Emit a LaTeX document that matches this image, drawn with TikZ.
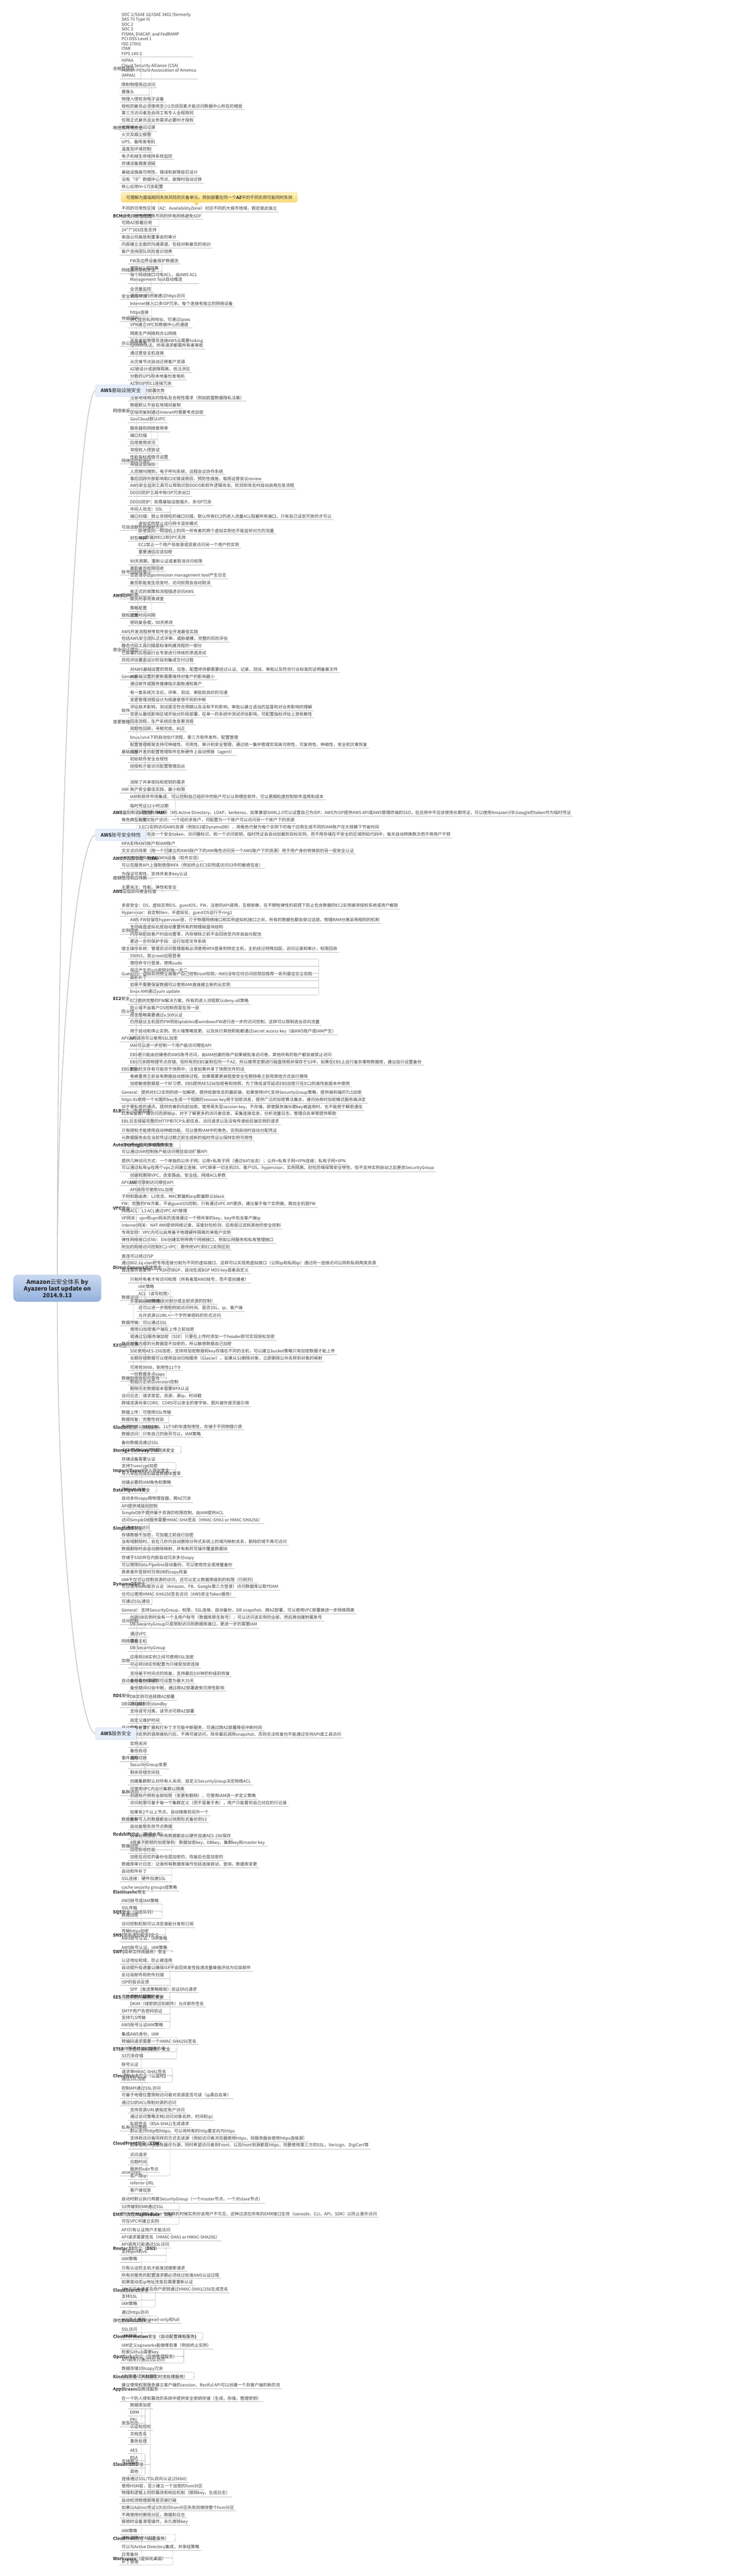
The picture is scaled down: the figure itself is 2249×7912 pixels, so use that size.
\documentclass[tikz,border=0pt]{standalone}
\usepackage{fontspec}
\setmainfont{Noto Sans CJK SC}
\usetikzlibrary{calc,positioning}

\definecolor{LeafGray}{RGB}{60,60,60}
\definecolor{LineGray}{RGB}{188,188,188}
\definecolor{TrunkGray}{RGB}{196,196,196}
\definecolor{RootTop}{RGB}{202,217,240}
\definecolor{RootBottom}{RGB}{147,177,222}
\definecolor{RootEdge}{RGB}{160,180,212}
\definecolor{BoxFill}{RGB}{230,238,250}
\definecolor{BoxEdge}{RGB}{168,190,224}
\definecolor{NoteTop}{RGB}{255,244,196}
\definecolor{NoteBottom}{RGB}{251,217,110}
\definecolor{NoteEdge}{RGB}{236,196,92}

\newcommand\leaffont{\fontsize{13}{15}\selectfont}
\newcommand\boxfont{\fontsize{15}{18}\selectfont}
\newcommand\rootfont{\fontsize{18}{20.5}\selectfont}
\newcommand\lstrut{\rule[-2pt]{0pt}{10pt}}
\newdimen\tmpw

\def\ycurv{33}
\def\bx{0}
\def\kids{}
\def\pfirst{}
\def\allfirst{}
\def\prevsub{0}
\def\kidno{0}
\def\myname{}
\newcommand\vgap[1]{\pgfmathsetmacro\tmpv{\ycurv+#1}\global\let\ycurv\tmpv}
\newcommand\addkid[1]{\ifx\kids\empty\edef\kids{#1}\else\edef\kids{\kids,#1}\fi}
\def\getfirst#1,#2\relax{\def\kfirst{#1}}

\newcommand\leaf[2][1]{%
  \edef\kidno{\the\numexpr\kidno+1\relax}%
  \edef\lname{\myname\kidno}%
  \pgfmathsetmacro\tmpv{\ycurv+22+15*(#1-1)}\global\let\ycurv\tmpv
  \node[leaf] (\lname) at (\bx,\ycurv) {#2};
  \draw[uline] (\lname.south west) -- (\lname.south east);
  \expandafter\addkid\expandafter{\lname}%
  \ifx\pfirst\empty\let\pfirst\lname\fi
  \global\let\lastleaf\lname
  \def\prevsub{0}}

\newcommand\drawkids[5]{%
  \coordinate (bk) at ([xshift=#3pt]#1);
  \draw[conn] ([xshift=#2pt]#1) -- (bk);
  \expandafter\getfirst\kids,\relax
  \foreach \k in \kids {\xdef\klast{\k}}%
  \ifx\kfirst\klast
    \draw[conn] (bk) |- ([xshift=#5pt]\kfirst.#4);
  \else
    \draw[conn,rounded corners=4pt] ([xshift=#5pt]\kfirst.#4) -| (bk) |- ([xshift=#5pt]\klast.#4);
    \foreach \k in \kids {%
      \edef\tmpa{\k}%
      \ifx\tmpa\kfirst\else\ifx\tmpa\klast\else
        \draw[conn] (bk |- \k.#4) -- ([xshift=#5pt]\k.#4);
      \fi\fi}%
  \fi}

\newcommand\linklvsub{%
  \draw[uline] (\myname.south west) -- (\myname.south east);
  \drawkids{\myname.south east}{0}{14}{south west}{6}}
\newcommand\linklvtwo{\drawkids{\myname.east}{9}{14}{south west}{6}}

\newcommand\branch[3][lvsub]{%
  \ifnum\prevsub=1 \vgap{6}\fi
  \sbox0{\leaffont #3}\tmpw=\wd0
  \pgfmathsetmacro\nbx{\bx+\tmpw+26}%
  \begingroup
  \let\myleft\bx \let\bx\nbx
  \def\kids{}\def\pfirst{}\def\prevsub{0}\def\kidno{0}%
  \def\myname{#2}\def\mytext{#3}\def\mystyle{#1}}
\newcommand\closebranch{%
  \coordinate (tmpx) at (\myleft,0);
  \coordinate (tmpm) at ($(\pfirst.south)!0.5!(\lastleaf.south)$);
  \node[\mystyle] (\myname) at (tmpx |- tmpm) {\mytext};
  \csname link\mystyle\endcsname
  \global\let\tmpfirst\pfirst
  \xdef\tmpname{\myname}%
  \endgroup
  \ifx\pfirst\empty\let\pfirst\tmpfirst\fi
  \expandafter\addkid\expandafter{\tmpname}%
  \def\prevsub{1}}

\newcommand\mainbox[2]{%
  \sbox0{\boxfont #2}\tmpw=\wd0
  \pgfmathsetmacro\nbx{293+\tmpw+32+16}%
  \begingroup
  \let\bx\nbx
  \def\kids{}\def\pfirst{}\def\prevsub{0}\def\kidno{0}%
  \def\myname{#1}\def\mytext{#2}}
\newcommand\closebox{%
  \coordinate (tmpx) at (293,0);
  \coordinate (tmpm) at ($(\pfirst.north)!0.5!(\lastleaf.south)$);
  \node[mainbox] (\myname) at (tmpx |- tmpm) {\mytext};
  \drawkids{\myname.east}{0}{16}{west}{4}%
  \global\let\tmpfirst\pfirst
  \endgroup
  \ifx\allfirst\empty\global\let\allfirst\tmpfirst\fi}

\begin{document}
\begin{tikzpicture}[x=1pt,y=-1pt]
\tikzstyle{leaf} = [anchor=south west, inner xsep=6pt, inner ysep=3pt, align=left, font=\leaffont, text=LeafGray, execute at begin node=\lstrut, execute at end node=\lstrut]
\tikzstyle{lvsub} = [leaf]
\tikzstyle{lvtwo} = [anchor=west, yshift=-3pt, inner xsep=6pt, inner ysep=3pt, font=\leaffont, text=black!85, execute at begin node=\lstrut]
\tikzstyle{mainbox} = [anchor=west, rectangle, rounded corners=5pt, draw=BoxEdge, fill=BoxFill, inner xsep=16pt, minimum height=36pt, font=\boxfont, text=black!80]
\tikzstyle{rootbox} = [rectangle, rounded corners=14pt, draw=RootEdge, top color=RootTop, bottom color=RootBottom, minimum width=270pt, minimum height=82pt, align=center, font=\rootfont, text=black!85]
\tikzstyle{note} = [anchor=south west, rectangle, rounded corners=6pt, draw=NoteEdge, top color=NoteTop, bottom color=NoteBottom, inner xsep=15pt, inner ysep=9pt, font=\leaffont, text=black!80]
\tikzstyle{uline} = [draw=LineGray, line width=0.9pt]
\tikzstyle{conn} = [draw=LineGray, line width=0.9pt]
\tikzstyle{trunk} = [draw=TrunkGray, line width=2.2pt]

\fill[white] (0,0) rectangle (2249,7912);
\useasboundingbox (0,0) rectangle (2249,7912);

\mainbox{infra}{\textbf{AWS}基础设施安全}
\branch[lvtwo]{comply}{合规性项目}
\leaf[9]{SOC 1/SSAE 16/ISAE 3402 (formerly\\SAS 70 Type II)\\SOC 2\\SOC 3\\FISMA, DIACAP, and FedRAMP\\PCI DSS Level 1\\ISO 27001\\ITAR\\FIPS 140-2}
\leaf[4]{HIPAA\\Cloud Security Alliance (CSA)\\Motion Picture Association of America\\(MPAA)}
\closebranch
\branch[lvtwo]{phys}{物理和环境安全}
\leaf{限制物理周边访问}
\leaf{摄像头}
\leaf{物理入侵检测电子设备}
\leaf{授权的雇员必须使用至少2次双因素才能访问数据中心所在的楼层}
\leaf{第三方访问者及合同工有专人全程陪同}
\leaf{仅限正式雇员且业务需求必要时才授权}
\leaf{定期审计访问记录}
\leaf{火灾及烟尘报警}
\leaf{UPS，备用发电机}
\leaf{温度及环境控制}
\leaf{电子机械生命维持系统监控}
\leaf{存储设备报废消磁}
\closebranch
\branch[lvtwo]{bcm}{\textbf{BCM}业务持续性管理}
\leaf{基础设施高可用性，错误和故障容忍设计}
\leaf{没有“冷”数据中心节点，故障时自动迁移}
\leaf{核心应用N+1冗余配置}
\vgap{45}
\leaf{不同的可用性区域（AZ：AvailabilityZone）对应不同的大城市地域，假定彼此独立}
\node[note] (aznote) at ([xshift=5pt,yshift=9pt]bcm4.north west) {可理解为面临相同失效风险的灾备单元，例如部署在同一个\textbf{AZ}中的不同实例可能同时失效};
\fill[NoteBottom] ([xshift=224pt,yshift=0.6pt]aznote.south west) -- ([xshift=231pt,yshift=-11pt]aznote.south west) -- ([xshift=238pt,yshift=0.6pt]aznote.south west) -- cycle;
\draw[NoteEdge] ([xshift=224pt]aznote.south west) -- ([xshift=231pt,yshift=-11pt]aznote.south west) -- ([xshift=238pt]aznote.south west);
\leaf{UPS，发电机使用不同的供电网络避免SOF}
\leaf{可跨AZ部署应用}
\leaf{24*7*365应急支持}
\leaf{来自公司高层和董事会的审计}
\leaf{内部建立全面的沟通渠道，包括对新雇员的培训}
\leaf{客户支持团队风险意识培养}
\closebranch
\branch[lvtwo]{net}{网络安全}
\branch{netinfra}{网络基础架构安全}
\leaf{FW及边界设备保护数据流}
\leaf{使用ACL规则集}
\leaf[2]{每个网络接口均有ACL，由AWS ACL\\Management Tool自动推送}
\closebranch
\branch{netnode}{安全访问节点}
\leaf{全流量监控}
\leaf{调用API的终端通过https访问}
\leaf{Internet接入口多ISP冗余，每个连接有独立的网络设备}
\closebranch
\branch{nettrans}{传输保护}
\leaf{https连接}
\leaf[2]{VPC提供私网地址，可通过Ipsec\\VPN建立VPC到数据中心的通道}
\closebranch
\branch{netoffice}{办公网络隔离}
\leaf{隔离生产网络和办公网络}
\leaf[2]{开发者和管理员连接AWS云需要ticking\\system认证，所有请求都需所有者审批}
\leaf{通过堡垒主机连接}
\closebranch
\branch{netfault}{错误容忍设计}
\leaf{从灾难节点自动迁移客户资源}
\leaf{AZ被设计成故障隔离，低泛洪区}
\leaf{分散的UPS和本地备份发电机}
\leaf{AZ到ISP的L1连接冗余}
\leaf{利用跨AZ部署优势}
\leaf{注意地域相关的隐私及合规性需求（例如欧盟数据隐私法案）}
\leaf{数据默认不会在地域间复制}
\leaf{区域间复制通过Intenet时需要考虑加密}
\leaf{GovCloud默认VPC}
\closebranch
\branch{netmon}{网络监控和保护}
\leaf{服务器和网络使用率}
\leaf{端口扫描}
\leaf{应用使用状况}
\leaf{非授权入侵尝试}
\leaf{性能指标阈值可设置}
\leaf{关键运营指标}
\leaf{人员随叫随到，电子呼叫系统，远程会议协作系统}
\leaf{事后回顾外部影响和COE错误原因，预防性措施，每周运营会议review}
\leaf{AWS安全监测工具可以帮助识别DDOS和软件逻辑攻击，检测到攻击时自动启用应急流程}
\leaf{DDOS防护工具中有ISP冗余出口}
\closebranch
\branch{netopt}{可自选额外的保护方式}
\leaf{DDOS防护：依靠基础设施强大，多ISP冗余}
\leaf{中间人攻击：SSL}
\leaf{端口扫描：禁止非授权的端口扫描，默认所有EC2的进入流量ACL阻塞所有端口，只有自己设定开放的才可以}
\branch{sniff}{封包嗅探}
\leaf{虚拟实例禁止运行网卡混杂模式}
\leaf{即使是同一物理机上的同一所有者的两个虚拟实例也不能监听对方的流量}
\leaf{arp欺骗对EC2和VPC无效}
\leaf{EC2禁止一个用户非故意或恶意访问另一个用户的实例}
\leaf{重要通信应该加密}
\closebranch
\closebranch
\closebranch
\branch[lvtwo]{awsaccess}{\textbf{AWS}访问}
\branch{review}{账号回顾和审计}
\leaf{90天周期，重新认证或者取消访问权限}
\leaf{离职雇员权限回收}
\leaf{变更请求由permission management tool产生日志}
\leaf{雇员职能发生改变时，访问权限会自动取消}
\closebranch
\branch{bgcheck}{后台检查}
\leaf{有正式的政策和流程描述访问AWS}
\leaf{雇员刑事背景调查}
\closebranch
\branch{authpol}{授权政策}
\leaf{策略配置}
\leaf{过期时间间隔}
\leaf{密码复杂度，90天修改}
\closebranch
\closebranch
\branch[lvtwo]{design}{安全设计理念}
\leaf{AWS开发流程参考软件安全开发最佳实践}
\leaf{包括AWS安全团队正式评审，威胁建模，完整的风险评估}
\leaf{静态代码工具扫描是标准构建流程的一部分}
\leaf{已部署的应用由行业专家进行持续的渗透测试}
\leaf{风险评估覆盖设计阶段到集成交付过程}
\closebranch
\branch[lvtwo]{change}{变更管理}
\branch{chgeneral}{General}
\leaf{对AWS基础设置的常规，应急，配置修改都需要经过认证、记录、测试、审批以及符合行业标准的证明备案文件}
\leaf{对基础设置的更新需要维持对客户的影响最小}
\leaf{通过邮件或服务健康指示面板通知客户}
\closebranch
\branch{chsoft}{软件}
\leaf{有一套系统方法论，评审、测试、审批和良好的沟通}
\leaf{变更管理流程设计为规避意想不到的中断}
\leaf{评估技术影响，测试是否符合预期以及没有不利影响，审批以建立适当的监督和对业务影响的理解}
\leaf{变更从最低影响区域开始分阶段部署，在单一的系统中测试评估影响，可配置指标评估上游依赖性}
\leaf{回滚流程，生产系统应急变更流程}
\leaf{周期性回顾，寻根究底，纠正}
\closebranch
\branch{chinfra}{基础设施}
\leaf{linux/unix下的自动化IT流程，第三方软件发布，配置管理}
\leaf{配置管理框架支持可伸缩性、可用性、审计和安全管理，通过统一集中管理实现高可用性，可复用性，伸缩性，安全和灾难恢复}
\leaf{内部开发的配置管理软件在新硬件上自动预装（agent）}
\leaf{初始软件安全合规性}
\leaf{经授权才能访问配置管理后台}
\closebranch
\closebranch
\closebox

\vgap{27}
\mainbox{account}{\textbf{AWS}账号安全特性}
\branch[lvtwo]{iam}{\textbf{AWS}鉴别和访问管理（\textbf{IAM}）}
\branch{iamcore}{IAM}
\leaf{消除了共享密码和密钥的需求}
\leaf{账户安全最佳实践，最小权限}
\leaf{IAM和软件市场集成，可以控制自己组织中的账户可以认购哪些软件，可以更细粒度控制软件滥用和成本}
\closebranch
\branch{role}{角色}
\leaf{临时凭证12小时过期}
\branch{scene}{典型场景}
\leaf{1.联合用户访问（MS Active Directory，LDAP，kerberos，如果兼容SAML2.0可以设置自己为IDP，AWS为ISP提供AWS API或AWS管理终端的SSO，在应用中不应该使用长期凭证，可以使用Amazon\textbackslash FB\textbackslash Google的token作为临时凭证}
\leaf{2.交叉账户访问：一个组织多账户，可配置为一个账户可以访问另一个账户下的资源}
\leaf{3.EC2实例访问AWS资源（例如S3或DynamoDB），用角色代替为每个实例下的每个应用生成不同的IAM账户在大规模下节省时间}
\closebranch
\leaf{临时凭证包含一个安全token，访问键标识，和一个访问密钥，临时凭证会自动加载到目标实例，而不用存储在不安全的区域例如代码中，每天自动转换数次而不用用户干预}
\closebranch
\closebranch
\branch[lvtwo]{mfa}{\textbf{AWS}多因素认证（\textbf{MFA}）}
\leaf{MFA支持AWS账户和IAM账户}
\leaf{交叉访问场景（用一个已建立的AWS账户下的IAM角色访问另一个AWS账户下的资源）用于用户身份转换前的另一层安全认证}
\leaf{MFA支持硬件和虚拟MFA设备（软件实现）}
\leaf{可以在服务API上强制使用MFA（例如终止EC3实例或访问S3中的敏感信息）}
\closebranch
\branch[lvtwo]{keyrot}{密钥管理和自转换}
\leaf{为保证可用性，支持并发多key认证}
\closebranch
\vgap{12}
\branch[lvtwo]{advisor}{\textbf{AWS}受信顾问安全检查}
\leaf{主要关注：性能，弹性和安全}
\closebranch
\closebox

\vgap{35}
\mainbox{service}{\textbf{AWS}服务安全}
\branch[lvtwo]{ectwo}{\textbf{EC2}安全}
\leaf{多层安全：OS，虚拟实例OS、guestOS，FW，注册的API调用，互相依赖，在不牺牲弹性的前提下防止包含数据的EC2实例被非授权系统或用户截取}
\leaf{Hypervisor：自定制Xen，半虚拟化，guestOS运行于ring1}
\branch{isolate}{实例隔离}
\leaf{AWS-FW驻留在hypervisor层，介于物理网络接口和实例虚拟机接口之间，所有的数据包都会穿过这层，物理RAM分离采用相同的机制}
\leaf{专用磁盘虚拟化层自动重置所有的物理磁盘块结构}
\leaf{内存非配给客户时自动置零，内存擦除之前不会回收至内存自由分配池}
\leaf{更进一步的保护手段：运行加密文件系统}
\closebranch
\leaf{宿主操作系统：管理员访问管理面板必须使用MFA登录到特定主机，主机经过特殊加固，访问记录和审计，权限回收}
\branch{guestos}{GuestOS：虚拟实例完全由客户自己控制root权限，AWS没有任何访问权限但推荐一系列最佳安全实践}
\leaf{SSHV2，禁止root远程登录}
\leaf{使用命令行登录，使用sudo}
\leaf{保证产生的ssh密钥对独一无二}
\leaf{最新补丁}
\leaf{如果不需要保留数据可以使用AMI直接建立新的云实例}
\leaf{linux AMI通过yum update}
\closebranch
\branch{ecfw}{防火墙}
\leaf{EC2提供完整的FW解决方案，所有的进入流程默认deny-all策略}
\leaf{防火墙不由客户OS控制而是在另一层}
\leaf{改变策略需要通过x.509认证}
\leaf{仍然建议主机层的FW例如iptables或windowsFW进行进一步的访问控制，这样可以限制进出双向流量}
\closebranch
\branch{ecapi}{API访问}
\leaf{用于启动和停止实例，防火墙策略变更，以及执行其他职能都通过secret access key（由AWS账户或IAM产生）}
\leaf{API调用可以使用SSL加密}
\leaf{IAM可以进一步控制一个用户能访问哪些API}
\closebranch
\branch{ebs}{EBS安全：}
\leaf{EBS卷只能由创建卷的AWS账号访问，由IAM创建的账户如果被批准访问卷，其他所有的账户都会被禁止访问}
\leaf{EBS冗余跨物理节点存储，但所有的EBS复制在同一个AZ，所以推荐定期进行磁盘快照并保存于S3中，如果在EBS上运行复杂事物数据库，建议自行设置备份}
\leaf{删除的文件有可能存于快照中，注意如果共享了快照文件的话}
\leaf{卷被重用之前会有数据自动擦除过程，如果需要更高程度安全在删除卷之前用其他方式自行擦除}
\leaf{加密敏感数据是一个好习惯，EBS提供AES256加密卷和快照，为了降低读写延迟EBS加密只在EC2的高性能版本中使用}
\closebranch
\closebranch
\branch[lvtwo]{elb}{\textbf{ELB}安全（负载均衡）}
\leaf{General：提供对EC2实例的统一加解密，提供抵御攻击的最前端，如果使用VPC支持SecurityGroup策略，提供端到端的TLS加密}
\leaf{https tls使用一个长期的key生成一个短期的session key用于加密消息，提供广泛的加密算法集合，通讯协商时加密模式服务端决定}
\leaf{对于更私密的通讯，提供完善的向前加密，使用易失型session key，不存储，即使服务端长期key被盗用时，也不能用于解密通信}
\leaf{ELB保留客户端访问的原始ip，对于了解更多的访问者信息，采集连接信息，分析流量日志，管理白名单等提供帮助}
\leaf{EBL日志保留完整的HTTP和TCP头部信息，访问请求以及没有传递给后端实例的请求}
\closebranch
\branch[lvtwo]{autoscale}{\textbf{Auto Scaling}自动伸缩服务安全}
\leaf{只有授权才能使用自动伸缩功能，可以使用IAM中的角色，实例启动时自动分配凭证}
\leaf{元数据服务会在当前凭证过期之前生成新的临时凭证以保持实例可用性}
\leaf{临时凭证每天自动转换多次}
\leaf{可以通过IAM控制账户能访问哪些自动扩展API}
\closebranch
\branch[lvtwo]{vpc}{\textbf{VPC}安全}
\leaf{提供几种访问方式：一个单独的公共子网；公用+私有子网（通过NAT出去）；公共+私有子网+VPN连接；私有子网+VPN}
\leaf{可以通过私有ip在两个vpc之间建立连接，VPC继承一切主机OS，客户OS，hypervisor，实例隔离，封包防嗅探等安全特性，但不支持实例启动之后更改SecurityGroup}
\branch{vpcapi}{API访问}
\leaf{创建和删除VPC，改变路由，安全组，网络ACL参数}
\leaf{IAM可限制访问哪些API}
\leaf{API调用可使用SSL加密}
\closebranch
\leaf{子网和路由表：L2攻击，MAC欺骗和arp欺骗默认block}
\leaf{FW：完整的FW方案，不由guestOS控制，只有通过VPC API更改，建议基于每个实例做，再加主机层FW}
\leaf{网络ACL：L3 ACL通过VPC API管理}
\leaf{VP网关：vpn和vpn网关的连接通过一个预共享的key，key中包含客户端ip}
\leaf{Internet网关：NAT AMI提供网络记录，深度封包检测，应用层过滤和其他的安全控制}
\leaf{专用实例：VPC内可以启用基于物理硬件隔离的单租户实例}
\leaf{弹性网络接口(ENI)：ENI创建实例带两个网络接口，例如公网服务和私有管理接口}
\leaf{附加的网络访问控制EC2-VPC：跟传统VPC和EC2实例区别}
\closebranch
\branch[lvtwo]{direct}{\textbf{Direct Connect}直连安全}
\leaf{直连可以绕过ISP}
\leaf{通过802.1q vlan把专用连接分割为不同的虚拟接口，这样可以实现用虚拟接口（公网ip和私网ip）通过同一连接访问公网和私网两类资源}
\leaf{直连服务需要带一个ASN的BGP，自动生成BGP MD5 key或者自定义}
\closebranch
\branch[lvtwo]{sthree}{\textbf{S3}安全}
\branch{s3access}{数据访问}
\leaf{只有所有者才有访问权限（所有者是AWS账号，而不是创建者）}
\branch{s3multi}{多重访问控制途径}
\leaf{IAM策略}
\leaf{ACL（读写权限）}
\leaf{bucket策略（对部分或全部资源的控制）}
\leaf{还可以进一步限制例如访问时间、是否SSL，ip，客户端}
\leaf{允许资源以URL+一个字符串密码的形式访问}
\closebranch
\closebranch
\leaf{数据传输：可以通过SSL}
\branch{s3store}{数据存储}
\leaf{使用S3加密客户端在上传之前加密}
\leaf{或通过S3服务端加密（SSE）只要在上传时添加一个header即可实现轻松加密}
\leaf{对象内部的元数据是不加密的，所以敏感数据自己加密}
\leaf{SSE使用AES-256加密，支持将加密数据和key存储在不同的主机，可以建立bucket策略只有加密数据才能上传}
\leaf{长期存储数据可以使用自动归档服务（Glacier），如果从S3删除对象，立即删除公共名称到对象的映射}
\closebranch
\branch{s3durable}{数据耐用性和可靠性}
\leaf{可用性9999，耐用性11个9}
\leaf{一份数据多点copy}
\leaf{数据历史状态version控制}
\leaf{删除历史数据版本需要MFA认证}
\closebranch
\leaf{访问日志：请求类型，资源，源ip，时间戳}
\leaf{跨域资源共享CORS：CORS可以安全的使字体，图片被外部页面引用}
\closebranch
\branch[lvtwo]{glacier}{\textbf{Glacier}安全（归档服务）}
\leaf{数据上传：可使用SSL传输}
\leaf{数据恢复：完整性校验}
\leaf{数据存储：AES-256，11个9的年度耐用性，存储于不同物理介质}
\leaf{数据访问：只有自己的账号可以，IAM策略}
\closebranch
\branch[lvtwo]{gateway}{\textbf{Storage Gateway}存储网关安全}
\leaf{备份数据流通过SSL}
\leaf{iSCSI支持CHAP协议}
\closebranch
\branch[lvtwo]{impexp}{\textbf{Import/Export}导入导出安全}
\leaf{存储设备需要认证}
\leaf{支持Truecrypt加密}
\leaf{导入导出完成后磁盘数据块置零}
\closebranch
\branch[lvtwo]{pipeline}{\textbf{Data Pipeline}安全}
\leaf{创建必要的IAM角色和策略}
\leaf{提供SSL传输}
\closebranch
\branch[lvtwo]{simpledb}{\textbf{SimpleDB}安全}
\leaf{自动多份copy跨物理容器，跨AZ冗余}
\leaf{API提供域级别控制}
\leaf{SimpleDB不提供基于资源的权限控制，由IAM提供ACL}
\leaf{访问SimpleDB服务需要HMAC-SHA签名（HMAC-SHA1 or HMAC-SHA256）}
\leaf{可通过SSL访问}
\leaf{存储数据不加密，可加载之前自行加密}
\leaf{当有域删除时，会在几秒内自动删除分布式系统上的域内映射关系，删除的域不再可访问}
\leaf{数据删除时会自动删除映射，并有新的写操作覆盖数据块}
\closebranch
\branch[lvtwo]{dynamo}{\textbf{DynamoDB}安全}
\leaf{存储于SSD并在内部自动冗余多分copy}
\leaf{可以使用Data Pipeline自动备份，可以使用完全或增量备份}
\leaf{原表意外受损时可用DR的copy恢复}
\leaf{IAM不仅可以控制资源的访问，还可以定义数据库级别的权限（行和列）}
\leaf{可以使用web联合认证（Amazon、FB、Google第三方登录）访问数据库以取代IAM}
\leaf{也可以使用HMAC-SHA256签名访问（AWS安全Token服务）}
\leaf{可通过SSL通信}
\closebranch
\branch[lvtwo]{rds}{\textbf{RDS}安全}
\leaf{General：支持SecurityGroup，权限，SSL连接，自动备份，DB snapshot，跨AZ部署，可以使用VPC部署做进一步网络隔离}
\branch{rdsaccess}{访问控制}
\leaf{创建DB实例时会有一个主用户账号（数据库原生账号），可以访问该实例的全部，然后再创建附属账号}
\leaf{DB SecurityGroup只是限制访问到数据库端口，更进一步的需要IAM}
\closebranch
\branch{rdsnet}{网络隔离}
\leaf{通过VPC}
\leaf{堡垒主机}
\leaf{DB SecurityGroup}
\closebranch
\branch{rdscrypt}{加密}
\leaf{应用到DB实例之间可使用SSL加密}
\leaf{可以将DB实例配置为只接受加密连接}
\closebranch
\branch{rdsbackup}{自动备份和DB快照}
\leaf{支持基于时间点的恢复，支持最后5分钟的秒级别恢复}
\leaf{自动备份保留期可设置为最大35天}
\leaf{备份期间IO会中断，通过跨AZ部署避免可用性影响}
\closebranch
\branch{rdsrepl}{DB实例复制}
\leaf{DB实例可选择跨AZ部署}
\leaf{自动复制到standby}
\leaf{支持读写分离，读节点可跨AZ部署}
\closebranch
\branch{rdspatch}{自动软件补丁}
\leaf{自定义维护时间}
\leaf{只有计算扩展和打补丁才可能中断服务，可通过跨AZ部署降低中断时间}
\leaf{删除实例的调用被执行后，不再可被访问，除非最后调用snapshot，否则无法恢复也不能通过任何API或工具访问}
\closebranch
\branch{rdsevent}{事件通知}
\leaf{实例关闭}
\leaf{备份启动}
\leaf{故障切换}
\leaf{SecurityGroup变更}
\leaf{剩余存储空间低}
\closebranch
\closebranch
\branch[lvtwo]{redshift}{\textbf{Redshift}安全（数据仓库）}
\branch{rscluster}{集群访问}
\leaf{创建集群默认对所有人关闭，自定义SecurityGroup决定网络ACL}
\leaf{可使用VPC内运行集群以隔离}
\leaf{创建账户拥有全部权限（变更和删除），可使用IAM进一步定义策略}
\leaf{访问权限可基于每一个集群定义（而不是基于表），用户只能看到自己对应的行记录}
\closebranch
\branch{rsbackup}{数据备份}
\leaf{如果有2个以上节点，自动镜像到另外一个}
\leaf{所有写入的数据都会以快照形式备份到S3}
\leaf{自动复制失效节点数据}
\closebranch
\branch{rscrypt}{数据加密}
\leaf{如果启用加密，所有数据都会以硬件加速AES-256保存}
\leaf{4层基于密钥的加密架构：数据加密key，DBkey，集群key和master key}
\leaf{加密影响性能}
\leaf{加密后对应的备份也是加密的，恢复后也是加密的}
\closebranch
\leaf{数据库审计日志：记录所有数据库操作包括连接尝试，查询，数据库变更}
\leaf{自动软件补丁}
\leaf{SSL连接：硬件加速SSL}
\closebranch
\branch[lvtwo]{cache}{\textbf{Elasticache}安全}
\leaf{cache security groups组策略}
\closebranch
\vgap{12}
\branch[lvtwo]{sqs}{\textbf{SQS}安全（消息队列）}
\leaf{AWS账号或IAM策略}
\leaf{SSL传输}
\leaf{数据加密}
\closebranch
\branch[lvtwo]{sns}{\textbf{SNS(}简单通知服务\textbf{)}安全}
\leaf{访问控制机制可以决定谁能分发和订阅}
\leaf{传输https加密}
\leaf{AWS账号认证，IAM策略}
\closebranch
\branch[lvtwo]{swf}{\textbf{SWF(}简单工作流服务）安全}
\leaf{AWS账号认证，IAM策略}
\closebranch
\vgap{12}
\branch[lvtwo]{ses}{\textbf{SES}（简单邮件服务）安全}
\leaf{认证地址和域，防止被滥用}
\leaf{自动提升投递量以确保ISP不会因突发性投递流量峰值评估为垃圾邮件}
\leaf{反垃圾邮件和附件扫描}
\leaf{ISP的投诉反馈}
\branch{sesauth}{支持3种认证机制}
\leaf{SPF（发送策略框架）验证DNS请求}
\leaf{反向认证发送者id}
\leaf{DKIM（域密钥识别邮件）允许邮件签名}
\closebranch
\leaf{SMTP用户名密码验证}
\leaf{支持TLS传输}
\leaf{AWS账号认证IAM策略}
\closebranch
\branch[lvtwo]{etss}{\textbf{ETSS}（弹性转编码服务）安全}
\leaf{集成AWS身份，IAM}
\leaf{转编码请求需要一个HMAC-SHA256签名}
\leaf{API可通过SSL加密访问}
\leaf{S3冗余存储}
\closebranch
\branch[lvtwo]{watch}{\textbf{CloudWatch}安全（云监控\textbf{)}}
\leaf{账号认证}
\leaf{请求带HMAC-SHA1签名}
\leaf{通信SSL加密}
\closebranch
\branch[lvtwo]{front}{\textbf{CloudFront}安全（\textbf{CDN}）}
\leaf{控制API通过SSL访问}
\leaf{可基于地理位置限制访问者对资源是否可读（ip黑白名单）}
\leaf{通过S3的ACL限制对源的访问}
\branch{cfprivate}{私有访问策略}
\leaf{支持资源URL被指定账户访问}
\leaf{通过访问策略文档(访问对象名称，时间和ip)}
\leaf{私钥签名（RSA-SHA1)生成请求}
\leaf{默认支持http和https，可以将所有的http重定向为https}
\leaf{支持和访问者同样的方式去读源（例如访问者浏览器使用https，则服务器会使用https连接源）}
\leaf{如果使用http服务器作为源，同时希望访问者到Front，以及front到源都是https，则要使用第三方的SSL，Verisign、DigiCert等}
\closebranch
\branch{cflog}{accesslog}
\leaf{访问请求}
\leaf{日期时间}
\leaf{服务的cdn节点}
\leaf{客户端ip}
\leaf{referrer URL}
\leaf{客户端信息}
\closebranch
\closebranch
\branch[lvtwo]{emr}{\textbf{EMR}（弹性\textbf{MapReduce}）安全}
\leaf{启动时默认执行两套SecurityGroup（一个master节点，一个对slave节点）}
\leaf{S3传输到EMR通过SSL}
\leaf{默认当IAM用户启动一个集群的时候实例对该用户不可见，这种过滤在所有的EMR接口生效（console，CLI，API，SDK）以防止意外访问}
\leaf{可在VPC中建立实例}
\closebranch
\branch[lvtwo]{route}{\textbf{Router 53}安全（\textbf{DNS}）}
\leaf{API只有认证用户才能访问}
\leaf{API请求需要签名（HMAC-SHA1 or HMAC-SHA256）}
\leaf{API调用只能通过SSL访问}
\leaf{支持ipv4和v6}
\leaf{IAM策略}
\closebranch
\branch[lvtwo]{search}{\textbf{CloudSearch}安全}
\leaf{只有认证的主机才能发送搜索请求}
\leaf{所有对服务的配置请求都必须经过标准AWS认证过程}
\leaf{如果是动态ip地址改变后需要重新认证}
\leaf{API访问由请求及用户密钥通过HMAC-SHA1/256生成签名}
\leaf{支持SSL}
\leaf{IAM策略}
\closebranch
\branch[lvtwo]{beanstalk}{弹性\textbf{Beanstalk}安全}
\leaf{通过https访问}
\leaf{IAM两个模板：read-only和full}
\closebranch
\branch[lvtwo]{formation}{\textbf{CloudFormation}安全（自动配置模板服务\textbf{)}}
\leaf{SSL访问}
\leaf{IAM策略}
\closebranch
\branch[lvtwo]{opsworks}{\textbf{OpsWorks}安全（应用管理服务）}
\leaf{IAM定义opsworks能做哪些事（例如终止实例）}
\leaf{检索Github需要key}
\leaf{API调用只通过SSL访问}
\closebranch
\branch[lvtwo]{kinesis}{\textbf{Kinesis}安全（大数据实时流处理服务）}
\leaf{数据存储3份copy冗余}
\leaf{API只通过SSL访问}
\closebranch
\branch[lvtwo]{appstream}{\textbf{AppStream}应用流服务}
\leaf{建议使用权限服务建立客户端的session，Restful API可以创建一个到客户端的新的流}
\closebranch
\vgap{12}
\branch[lvtwo]{hsm}{\textbf{CloudHSM}安全}
\leaf{在一个防入侵和篡改的系统中提供安全密钥存储（生成，存储，管理密钥）}
\branch{hsmtype}{类型包括}
\leaf{数据库加密}
\leaf{DRM}
\leaf{PKI}
\leaf{认证和授权}
\leaf{文档签名}
\leaf{事务处理}
\closebranch
\branch{hsmalgo}{支持算法}
\leaf{AES}
\leaf{RSA}
\leaf{ECC}
\leaf{其他}
\closebranch
\leaf{连接通过SSL/TSL双向认证(256bit)}
\leaf{使用HSM前，至少建立一个加密的hsm分区}
\leaf{物理和逻辑上的防篡改和响应机制（擦除key，生成日志）}
\leaf{自动检测物理屏障是否被打破}
\leaf{如果以Admin凭证3次访问hsm分区失败则擦除整个hsm分区}
\leaf{不再使用时删除分区，数据和日志}
\leaf{报销时设备清零操作，永久擦除key}
\closebranch
\branch[lvtwo]{trail}{\textbf{CloudTrail}安全（日志服务）}
\leaf{IAM策略}
\leaf{删除需要MFA认证}
\closebranch
\branch[lvtwo]{workspace}{\textbf{Workspace}（虚拟化桌面）}
\leaf{可以与Active Directory集成，共享组策略}
\leaf{日常备份}
\leaf{补丁管理}
\closebranch
\closebox

\coordinate (rootx) at (176,0);
\coordinate (rootmid) at ($(\allfirst.north)!0.5!(\lastleaf.south)$);
\node[rootbox] (root) at (rootx |- rootmid) {\textbf{Amazon}云安全体系 \textbf{by}\\\textbf{Ayazero last update on}\\\textbf{2014.9.13}};
\draw[trunk] (root.north) .. controls ($(root.north)!0.6!(root.north |- infra.west)$) and ([xshift=-45pt]infra.west) .. (infra.west);
\draw[trunk] (root.north) .. controls ($(root.north)!0.6!(root.north |- account.west)$) and ([xshift=-45pt]account.west) .. (account.west);
\draw[trunk] (root.south) .. controls ($(root.south)!0.6!(root.south |- service.west)$) and ([xshift=-45pt]service.west) .. (service.west);
\end{tikzpicture}
\end{document}
